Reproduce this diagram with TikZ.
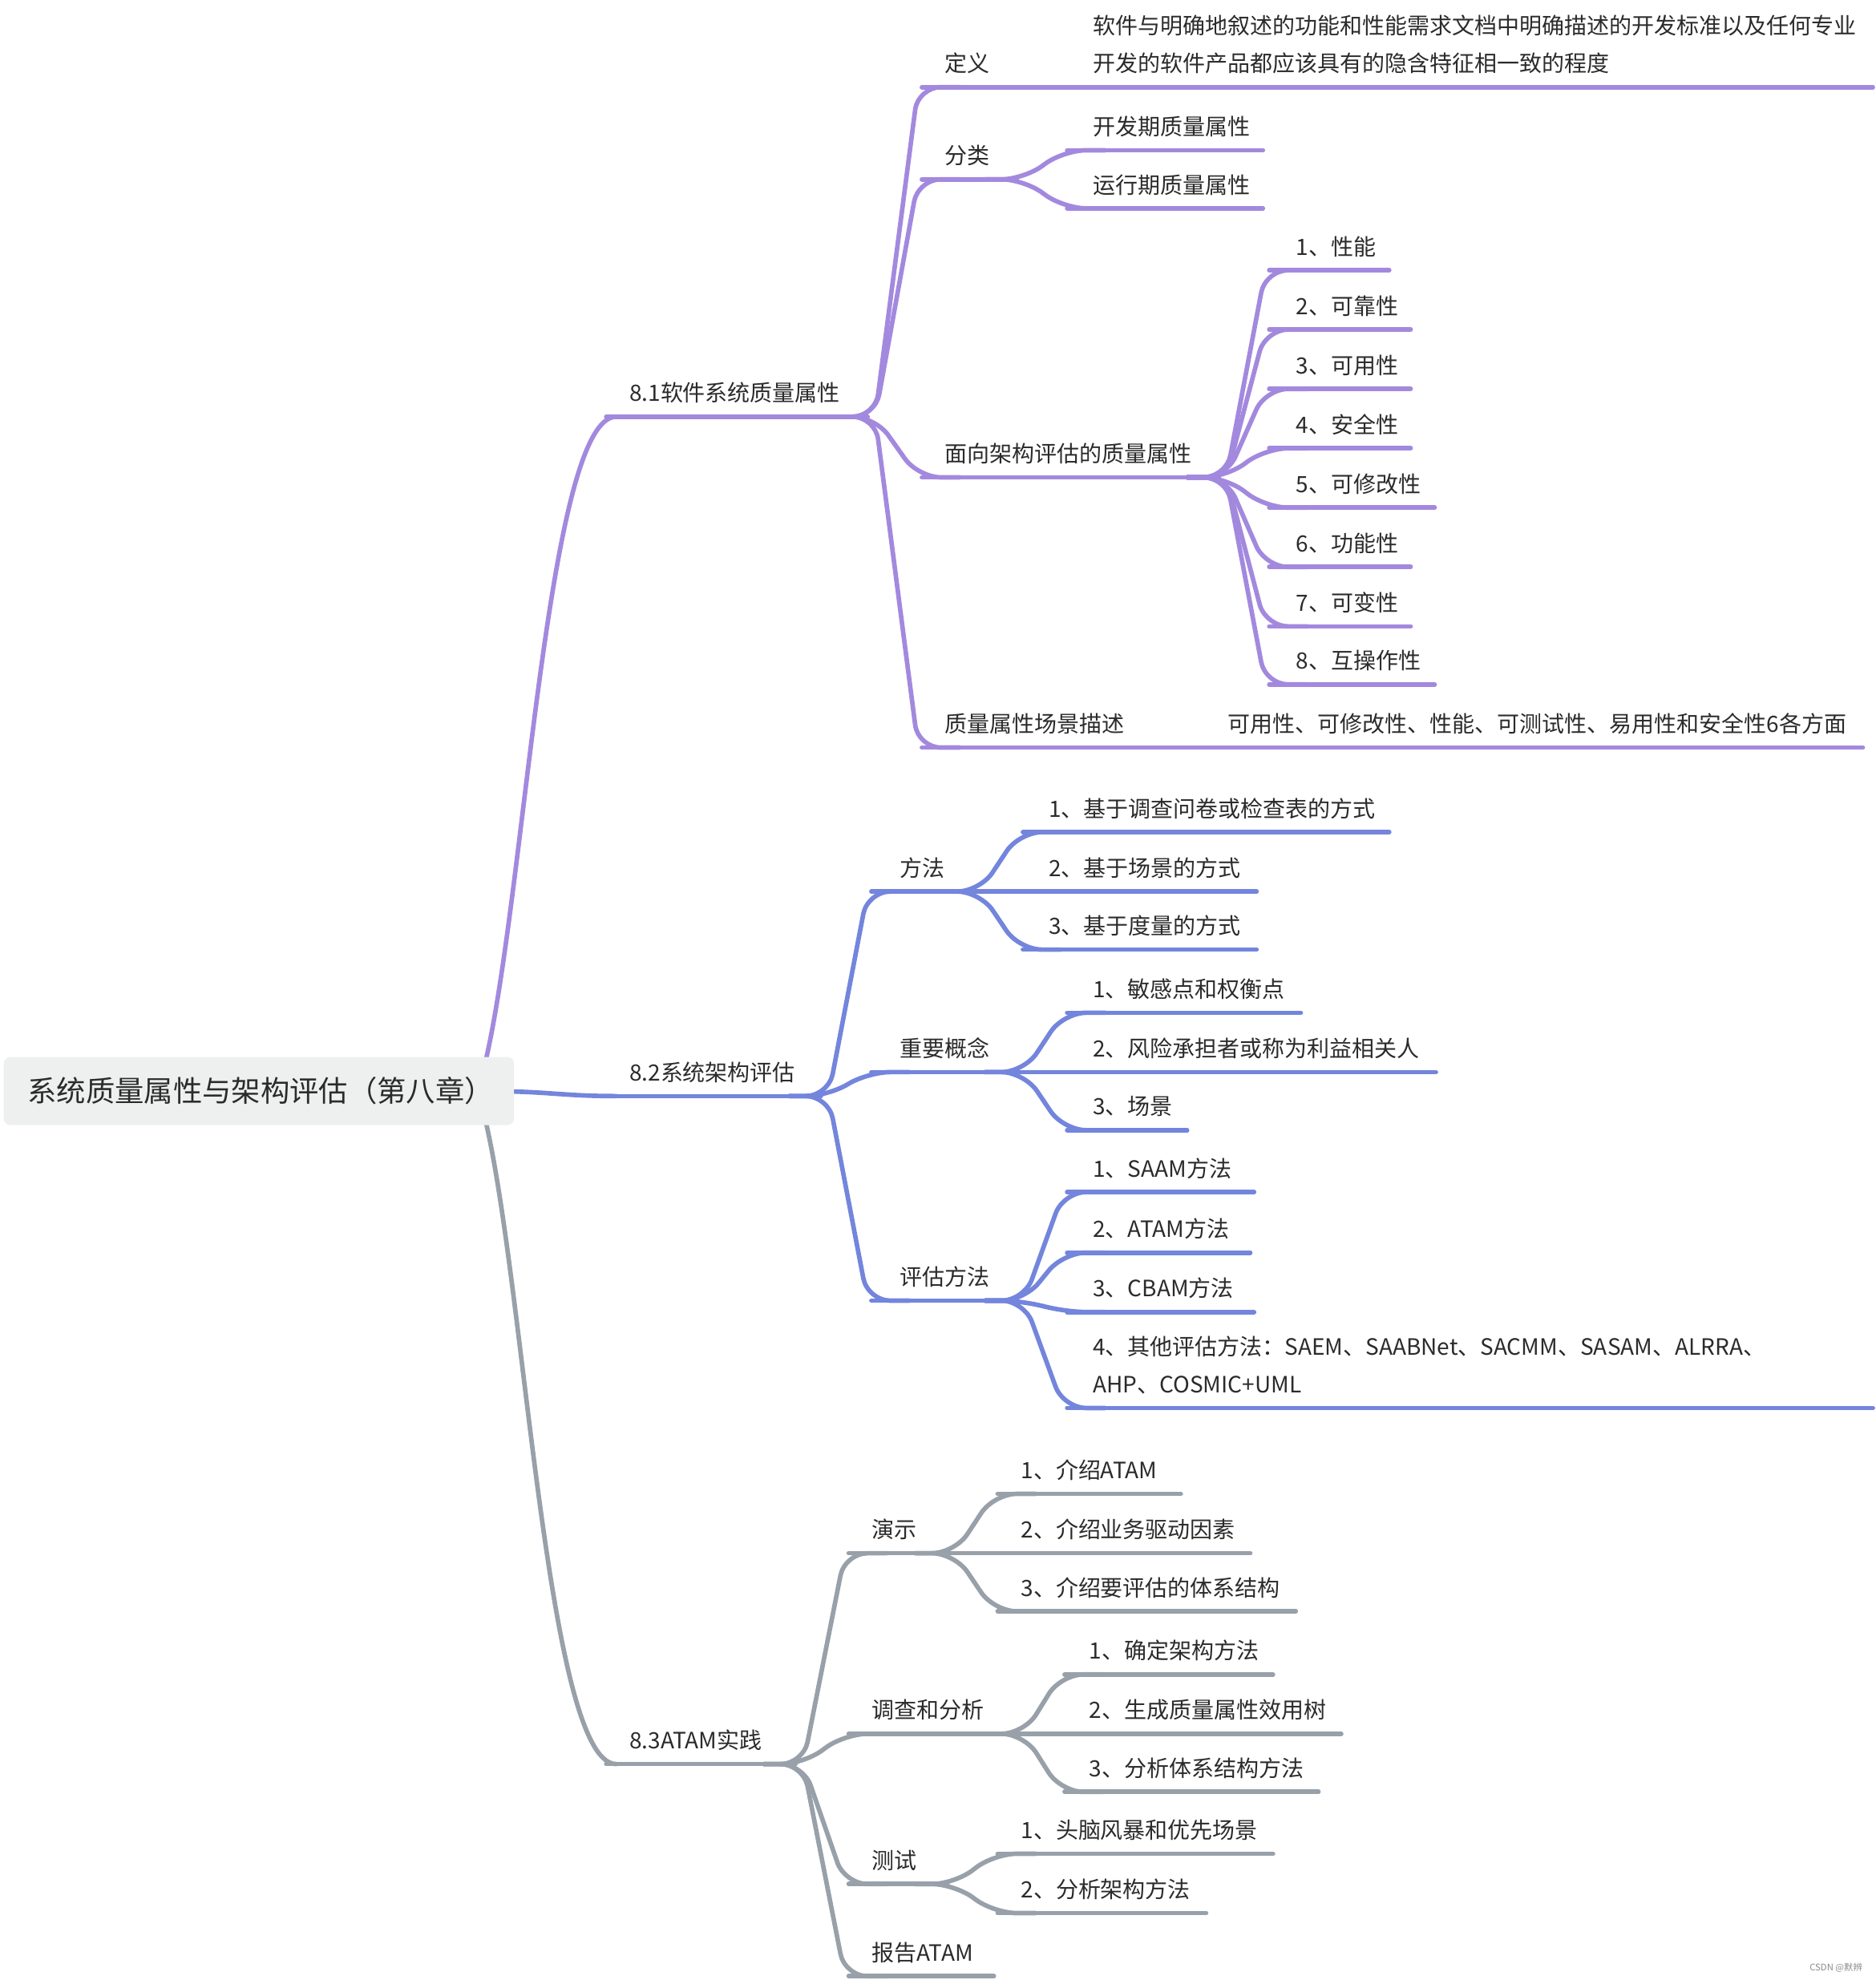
\documentclass[tikz,border=0pt]{standalone}
\usepackage{fontspec}
\setmainfont{Noto Sans CJK SC}
\usetikzlibrary{calc}
\definecolor{cpur}{RGB}{163,137,222}
\definecolor{cblu}{RGB}{115,133,220}
\definecolor{cgry}{RGB}{152,160,169}
\definecolor{ctxt}{RGB}{43,43,43}
\definecolor{crootbg}{RGB}{238,240,239}
% connector from a junction to the start of a child's underline
\newcommand\mmlink[3]{\draw[lk,#1] ($(#2)+(-25,0)$) -- ($(#2)+(6,0)$) -- ($(#3)+(-3,0)$) -- ($(#3)+(30,0)$);}
% leaf: name, colour, junction, ux, uy, textx, uend, text
\newcommand\mmleaf[8]{%
  \coordinate (c-#1) at (#4,#5);
  \coordinate (e-#1) at (#7,#5);
  \mmlink{#2}{#3}{c-#1}
  \draw[lk,#2] (c-#1) -- (e-#1);
  \node[txt] (t-#1) at (#6,#5-12) {#8};}
\begin{document}
\begin{tikzpicture}[x=0.4727pt,y=-0.4727pt,
  lk/.style={line width=1.7pt,line cap=round,line join=round,rounded corners=8.5pt},
  rk/.style={line width=1.7pt,line cap=round},
  txt/.style={anchor=base west,inner sep=0pt,text=ctxt,font=\fontsize{8.4}{14.2}\selectfont},
  rootbox/.style={fill=crootbg,rounded corners=2.5pt,minimum width=191pt,minimum height=25.5pt,
    inner xsep=9pt,inner ysep=0pt,text width=173pt,align=left,text=ctxt,font=\fontsize{10.9}{12}\selectfont},
  wm/.style={inner sep=0pt,text=black!45,font=\fontsize{3.4}{4}\selectfont}]
\useasboundingbox[fill=white] (0,0) rectangle (1485,1568);

% ---------------- root connectors ----------------
\coordinate (rs1) at (378,864);
\coordinate (rs2) at (380,864);
\coordinate (rs3) at (378,864);
\coordinate (l81) at (488,330);
\coordinate (l82) at (488,868);
\coordinate (l83) at (488,1397);
\coordinate (u81) at (480,330);
\coordinate (u82) at (480,868);
\coordinate (u83) at (480,1397);
\coordinate (j81) at (687,330);
\coordinate (j82) at (650,868);
\coordinate (j83) at (630,1397);
\draw[rk,cpur] (rs1) .. controls +(36,-108) and +(-58,0) .. (l81);
\draw[rk,cblu] (rs2) .. controls +(55,0) and +(-45,0) .. (l82);
\draw[rk,cgry] (rs3) .. controls +(36,108) and +(-58,0) .. (l83);
\draw[rk,cpur] (u81) -- (j81);
\draw[rk,cblu] (u82) -- (j82);
\draw[rk,cgry] (u83) -- (j83);
\node[txt] (t81) at (498,318) {8.1软件系统质量属性};
\node[txt] (t82) at (498,856) {8.2系统架构评估};
\node[txt] (t83) at (498,1385) {8.3ATAM实践};

% ---------------- 8.1 ----------------
% 定义
\coordinate (c-dy) at (730,69);
\coordinate (e-dy) at (1483,69);
\mmlink{cpur}{j81}{c-dy}
\draw[lk,cpur] (c-dy) -- (e-dy);
\node[txt] (t-dy) at (748,57) {定义};
\node[txt] (t-dyc) at (865,57) {\parbox[b]{310pt}{\raggedright 软件与明确地叙述的功能和性能需求文档中明确描述的开发标准以及任何专业\\开发的软件产品都应该具有的隐含特征相一致的程度}};
% 分类
\coordinate (c-fl) at (730,142);
\coordinate (j-fl) at (805,142);
\mmlink{cpur}{j81}{c-fl}
\draw[lk,cpur] (c-fl) -- (j-fl);
\node[txt] (t-fl) at (748,130) {分类};
\mmleaf{fl1}{cpur}{j-fl}{845}{119}{865}{1000}{开发期质量属性}
\mmleaf{fl2}{cpur}{j-fl}{845}{165}{865}{1000}{运行期质量属性}
% 面向架构评估的质量属性
\coordinate (c-mx) at (730,378);
\coordinate (j-mx) at (965,378);
\mmlink{cpur}{j81}{c-mx}
\draw[lk,cpur] (c-mx) -- (j-mx);
\node[txt] (t-mx) at (748,366) {面向架构评估的质量属性};
\mmleaf{mx1}{cpur}{j-mx}{1005}{214}{1026}{1100}{1、性能}
\mmleaf{mx2}{cpur}{j-mx}{1005}{261}{1026}{1117}{2、可靠性}
\mmleaf{mx3}{cpur}{j-mx}{1005}{308}{1026}{1117}{3、可用性}
\mmleaf{mx4}{cpur}{j-mx}{1005}{355}{1026}{1117}{4、安全性}
\mmleaf{mx5}{cpur}{j-mx}{1005}{402}{1026}{1136}{5、可修改性}
\mmleaf{mx6}{cpur}{j-mx}{1005}{449}{1026}{1117}{6、功能性}
\mmleaf{mx7}{cpur}{j-mx}{1005}{496}{1026}{1117}{7、可变性}
\mmleaf{mx8}{cpur}{j-mx}{1005}{542}{1026}{1136}{8、互操作性}
% 质量属性场景描述
\coordinate (c-cj) at (730,592);
\coordinate (e-cj) at (1475,592);
\mmlink{cpur}{j81}{c-cj}
\draw[lk,cpur] (c-cj) -- (e-cj);
\node[txt] (t-cj) at (748,580) {质量属性场景描述};
\node[txt] (t-cjc) at (972,580) {可用性、可修改性、性能、可测试性、易用性和安全性6各方面};

% ---------------- 8.2 ----------------
\coordinate (c-ff) at (690,706);
\coordinate (j-ff) at (770,706);
\mmlink{cblu}{j82}{c-ff}
\draw[lk,cblu] (c-ff) -- (j-ff);
\node[txt] (t-ff) at (712,694) {方法};
\mmleaf{ff1}{cblu}{j-ff}{810}{659}{830}{1100}{1、基于调查问卷或检查表的方式}
\mmleaf{ff2}{cblu}{j-ff}{810}{706}{830}{995}{2、基于场景的方式}
\mmleaf{ff3}{cblu}{j-ff}{810}{752}{830}{995}{3、基于度量的方式}

\coordinate (c-zy) at (690,849);
\coordinate (j-zy) at (805,849);
\mmlink{cblu}{j82}{c-zy}
\draw[lk,cblu] (c-zy) -- (j-zy);
\node[txt] (t-zy) at (712,837) {重要概念};
\mmleaf{zy1}{cblu}{j-zy}{845}{802}{865}{1030}{1、敏感点和权衡点}
\mmleaf{zy2}{cblu}{j-zy}{845}{849}{865}{1137}{2、风险承担者或称为利益相关人}
\mmleaf{zy3}{cblu}{j-zy}{845}{895}{865}{940}{3、场景}

\coordinate (c-pg) at (690,1030);
\coordinate (j-pg) at (805,1030);
\mmlink{cblu}{j82}{c-pg}
\draw[lk,cblu] (c-pg) -- (j-pg);
\node[txt] (t-pg) at (712,1018) {评估方法};
\mmleaf{pg1}{cblu}{j-pg}{845}{944}{865}{993}{1、SAAM方法}
\mmleaf{pg2}{cblu}{j-pg}{845}{992}{865}{990}{2、ATAM方法}
\mmleaf{pg3}{cblu}{j-pg}{845}{1039}{865}{993}{3、CBAM方法}
\mmleaf{pg4}{cblu}{j-pg}{845}{1115}{865}{1483}{\parbox[b]{310pt}{\raggedright 4、其他评估方法：SAEM、SAABNet、SACMM、SASAM、ALRRA、\\AHP、COSMIC+UML}}

% ---------------- 8.3 ----------------
\coordinate (c-ys) at (672,1230);
\coordinate (j-ys) at (750,1230);
\mmlink{cgry}{j83}{c-ys}
\draw[lk,cgry] (c-ys) -- (j-ys);
\node[txt] (t-ys) at (690,1218) {演示};
\mmleaf{ys1}{cgry}{j-ys}{790}{1183}{808}{935}{1、介绍ATAM}
\mmleaf{ys2}{cgry}{j-ys}{790}{1230}{808}{990}{2、介绍业务驱动因素}
\mmleaf{ys3}{cgry}{j-ys}{790}{1276}{808}{1026}{3、介绍要评估的体系结构}

\coordinate (c-dc) at (672,1373);
\coordinate (j-dc) at (805,1373);
\mmlink{cgry}{j83}{c-dc}
\draw[lk,cgry] (c-dc) -- (j-dc);
\node[txt] (t-dc) at (690,1361) {调查和分析};
\mmleaf{dc1}{cgry}{j-dc}{843}{1326}{862}{1008}{1、确定架构方法}
\mmleaf{dc2}{cgry}{j-dc}{843}{1373}{862}{1062}{2、生成质量属性效用树}
\mmleaf{dc3}{cgry}{j-dc}{843}{1419}{862}{1044}{3、分析体系结构方法}

\coordinate (c-cs) at (672,1492);
\coordinate (j-cs) at (750,1492);
\mmlink{cgry}{j83}{c-cs}
\draw[lk,cgry] (c-cs) -- (j-cs);
\node[txt] (t-cs) at (690,1480) {测试};
\mmleaf{cs1}{cgry}{j-cs}{790}{1468}{808}{1008}{1、头脑风暴和优先场景}
\mmleaf{cs2}{cgry}{j-cs}{790}{1515}{808}{955}{2、分析架构方法}

\mmleaf{bg}{cgry}{j83}{672}{1565}{690}{787}{报告ATAM}

% ---------------- root ----------------
\node[rootbox] (root) at (205,864) {系统质量属性与架构评估（第八章）};

% watermark
\node[wm,anchor=east] (wmk) at (1475,1558) {CSDN @默辨};
\end{tikzpicture}
\end{document}
